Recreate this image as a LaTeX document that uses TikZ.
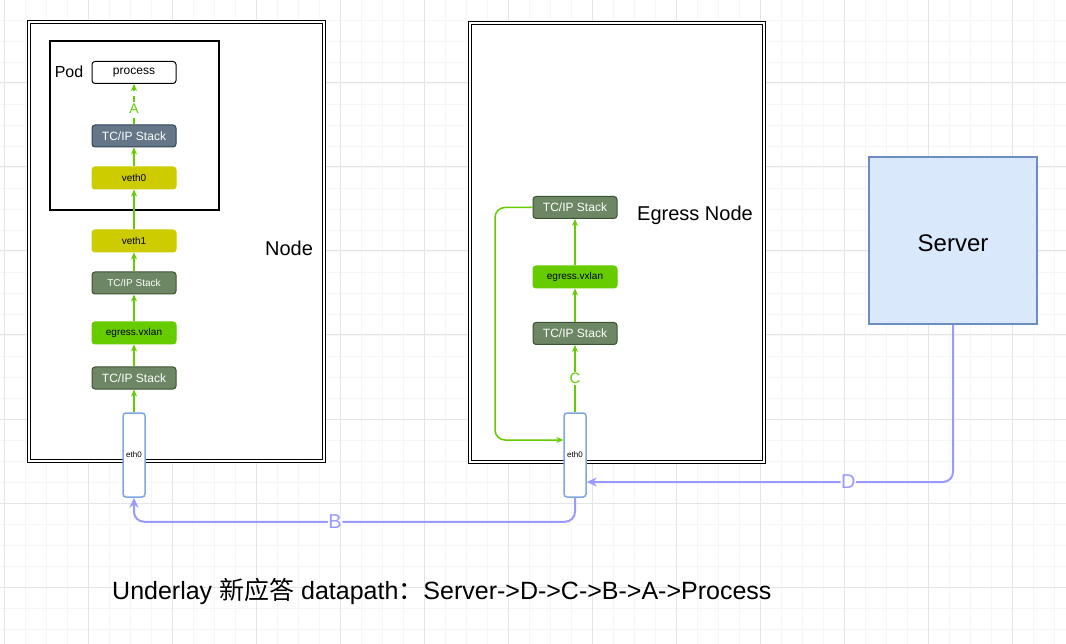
\documentclass[tikz,border=0pt]{standalone}
\usepackage{fontspec}
\setmainfont{Liberation Sans}
\newfontfamily\cjkfont{Noto Sans CJK SC}
\usetikzlibrary{arrows.meta,calc}
\definecolor{grid_minor}{RGB}{246, 246, 246}
\definecolor{grid_major}{RGB}{229, 229, 229}
\definecolor{tcp_green}{RGB}{109, 135, 100}
\definecolor{tcp_green_edge}{RGB}{58, 84, 49}
\definecolor{tcp_slate}{RGB}{100, 118, 135}
\definecolor{tcp_slate_edge}{RGB}{49, 67, 84}
\definecolor{veth_yellow}{RGB}{204, 204, 0}
\definecolor{vx_green}{RGB}{102, 204, 0}
\definecolor{eth_blue}{RGB}{126, 166, 224}
\definecolor{srv_fill}{RGB}{218, 232, 252}
\definecolor{srv_edge}{RGB}{108, 142, 191}
\definecolor{path_blue}{RGB}{153, 153, 255}
\newcommand{\fs}[1]{\fontsize{#1}{#1}\selectfont}
\tikzstyle{gmin}=[grid_minor,line width=0.8pt]
\tikzstyle{gmaj}=[grid_major,line width=1pt]
\tikzstyle{hostbox}=[rectangle,draw=black,fill=white,double=white,
  double distance=1.5pt,line width=1.6pt,inner sep=0pt]
\tikzstyle{podbox}=[rectangle,draw=black,fill=white,line width=1.4pt,inner sep=0pt]
\tikzstyle{bx}=[rectangle,rounded corners=3pt,line width=1pt,inner sep=0pt,
  minimum width=84pt,minimum height=22pt]
\tikzstyle{gtcp}=[bx,fill=tcp_green,draw=tcp_green_edge,text=white]
\tikzstyle{stcp}=[bx,fill=tcp_slate,draw=tcp_slate_edge,text=white]
\tikzstyle{veth}=[bx,fill=veth_yellow,draw=veth_yellow,font=\fs{10}]
\tikzstyle{vx}=[bx,fill=vx_green,draw=vx_green,font=\fs{10}]
\tikzstyle{proc}=[bx,fill=white,draw=black,font=\fs{12}]
\tikzstyle{eth}=[rectangle,rounded corners=3pt,fill=white,draw=eth_blue,
  line width=1.5pt,inner sep=0pt,minimum width=22pt,minimum height=84pt,font=\fs{8}]
\tikzstyle{srv}=[rectangle,fill=srv_fill,draw=srv_edge,line width=2pt,
  minimum width=168pt,minimum height=167pt,font=\fs{24}]
\tikzstyle{ga}=[vx_green,line width=1.5pt,-{Stealth[length=7pt,width=6pt]}]
\tikzstyle{ba}=[path_blue,line width=2pt,rounded corners=10pt,
  -{Stealth[length=10pt,width=9pt]}]
\tikzstyle{none}=[]

\begin{document}
\begin{tikzpicture}[x=1pt,y=-1pt]
    \useasboundingbox (0,0) rectangle (1066,644);
    \fill[white] (0,0) rectangle (1066,644);
    % grid
    \foreach \i in {0,...,50} \draw[style=gmin] ({4+21*\i},0) -- ({4+21*\i},644);
    \foreach \j in {1,...,30} \draw[style=gmin] (0,{-1+21*\j}) -- (1066,{-1+21*\j});
    \foreach \i in {0,...,12} \draw[style=gmaj] ({4+84*\i},0) -- ({4+84*\i},644);
    \foreach \j in {1,...,7} \draw[style=gmaj] (0,{-1+84*\j}) -- (1066,{-1+84*\j});

            \node [style=hostbox,minimum width=295pt,minimum height=439pt] (0) at (176.5, 241.5) {};
            \node [style=podbox,minimum width=169pt,minimum height=169pt] (1) at (134.5, 125.5) {};
            \node [style=proc] (2) at (134, 72.5) {process};
            \node [style=stcp,font=\fs{12}] (3) at (134, 136) {TC/IP Stack};
            \node [style=veth] (4) at (134, 178) {veth0};
            \node [style=veth] (5) at (134, 241) {veth1};
            \node [style=gtcp,font=\fs{10}] (6) at (134, 283) {TC/IP Stack};
            \node [style=vx] (7) at (134, 333) {egress.vxlan};
            \node [style=gtcp,font=\fs{12}] (8) at (134, 378) {TC/IP Stack};
            \node [style=eth] (9) at (134, 455) {eth0};
            \node [style=hostbox,minimum width=294pt,minimum height=439pt] (10) at (617, 242.5) {};
            \node [style=gtcp,font=\fs{12}] (11) at (575, 207.5) {TC/IP Stack};
            \node [style=vx] (12) at (575, 277) {egress.vxlan};
            \node [style=gtcp,font=\fs{12}] (13) at (575, 333.5) {TC/IP Stack};
            \node [style=eth] (14) at (575, 455) {eth0};
            \node [style=srv] (15) at (953, 240.5) {};
            \node [style=none,font=\fs{24}] (21) at (953, 243) {Server};
            \node [style=none,font=\fs{16}] (16) at (69, 72) {Pod};
            \node [style=none,font=\fs{20}] (17) at (289, 248) {Node};
            \node [style=none,font=\fs{20}] (18) at (695, 215) {Egress Node};
            \node [style=none,font=\fs{25},anchor=west,inner sep=0pt] (19) at (112, 591)
                {Underlay {\cjkfont 新应答} datapath{\cjkfont ：}Server->D->C->B->A->Process};
            \coordinate (20) at (495, 440);
            \draw [style=ga] (9) to (8);
            \draw [style=ga] (8) to (7);
            \draw [style=ga] (7) to (6);
            \draw [style=ga] (6) to (5);
            \draw [style=ga] (5) to (4);
            \draw [style=ga] (4) to (3);
            \draw [style=ga,dash pattern=on 6pt off 5pt] (3) to
                node [pos=0.4,fill=white,inner sep=1pt,text=vx_green,font=\fs{14}] {A} (2);
            \draw [style=ga] (14) to
                node [fill=white,inner sep=1pt,text=vx_green,font=\fs{15}] {C} (13);
            \draw [style=ga] (13) to (12);
            \draw [style=ga] (12) to (11);
            \draw [style=ga,rounded corners=10pt] (11.west) -| (20) -- ([yshift=15pt]14.west);
            \draw [style=ba] (15.south) |- ([yshift=-27pt]14.east)
                node [pos=0.643,fill=white,inner sep=0.5pt,text=path_blue,font=\fs{20}] {D};
            \draw [style=ba] (14.south) -- ++(0, 24) -| (9.south)
                node [pos=0.272,fill=white,inner sep=0.5pt,text=path_blue,font=\fs{20}] {B};
    \end{tikzpicture}
\end{document}
